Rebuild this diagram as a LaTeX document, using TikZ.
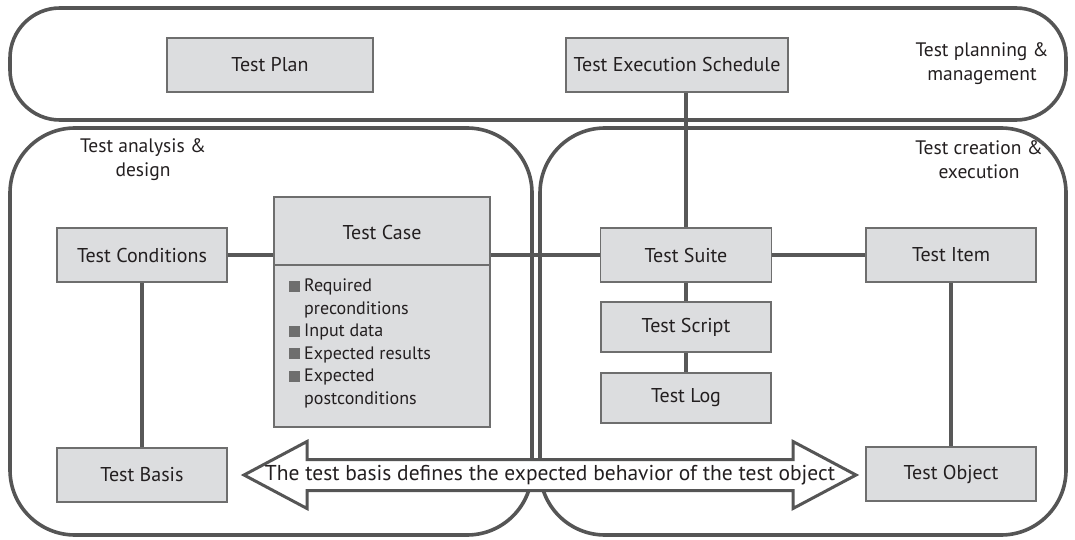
\documentclass[tikz,border=0pt]{standalone}
\usepackage{fontspec}
\setmainfont{PT Sans}
\usetikzlibrary{shapes.arrows}
\definecolor{boxfill}{RGB}{220,221,223}
\definecolor{boxline}{RGB}{110,110,110}
\definecolor{frameline}{RGB}{85,85,85}
\definecolor{connline}{RGB}{88,88,88}
\definecolor{inktext}{RGB}{35,31,32}
\newcommand{\sqmark}{\textcolor{boxline}{\rule{11pt}{11pt}}\hspace{4pt}}
\begin{document}
\begin{tikzpicture}[x=1pt,y=-1pt,
    every node/.style={text=inktext,font=\fontsize{18}{22.5}\selectfont},
    artefact/.style={draw=boxline,fill=boxfill,line width=1.3pt,minimum width=170pt,minimum height=54pt,inner sep=0pt,
      font=\fontsize{20}{24}\selectfont},
    arealabel/.style={align=center,font=\fontsize{19.5}{24}\selectfont},
    area/.style={draw=frameline,line width=3.6pt},
    link/.style={draw=connline,line width=4pt}]
  \useasboundingbox (0,0) rectangle (1075,540);
  % the three activity areas
  \draw[area,rounded corners=50pt] (10,8) rectangle (1066,120);
  \draw[area,rounded corners=65pt] (10,128) rectangle (532,535);
  \draw[area,rounded corners=65pt] (540,128) rectangle (1066,535);
  \node[arealabel] (plabel) at (982,64) {Test planning \&\\management};
  \node[arealabel] (alabel) at (143,160) {Test analysis \&\\design};
  \node[arealabel] (clabel) at (979,160) {Test creation \&\\execution};
  % work products
  \node[artefact,minimum width=206pt] (plan) at (270,65) {Test Plan};
  \node[artefact,minimum width=222pt] (sched) at (677,65) {Test Execution Schedule};
  \node[artefact] (cond) at (142,255) {Test Conditions};
  \node[artefact,minimum width=171pt] (suite) at (686,255) {Test Suite};
  \node[artefact] (item) at (951,255) {Test Item};
  \node[artefact,minimum height=50pt] (script) at (686,327) {Test Script};
  \node[artefact,minimum height=50pt] (log) at (686,398) {Test Log};
  \node[artefact] (basis) at (142,475) {Test Basis};
  \node[artefact] (object) at (951,474) {Test Object};
  \node[artefact,minimum width=216pt,minimum height=230pt] (case) at (382,312) {};
  \node[font=\fontsize{20}{24}\selectfont] (casetitle) at (382,232) {Test Case};
  \draw[boxline,line width=1.3pt] (case.west |- 0,265) -- (case.east |- 0,265);
  \node[anchor=north west,align=left,inner sep=0pt] (caseitems) at (289,279)
    {\sqmark Required\\\hphantom{\sqmark}preconditions\\\sqmark Input data\\
     \sqmark Expected results\\\sqmark Expected\\\hphantom{\sqmark}postconditions};
  % relations
  \begin{scope}[link]
    \draw (suite |- sched.south) to (suite);
    \draw (cond) to (cond -| case.west);
    \draw (case.east |- suite) to (suite);
    \draw (suite) to (item);
    \draw (suite) to (script);
    \draw (script) to (log);
    \draw (cond) to (basis);
    \draw (item) to (object);
  \end{scope}
  % basis <-> object
  \node[double arrow,draw=frameline,fill=white,line width=3pt,inner xsep=0pt,inner ysep=14pt,
        minimum height=612pt,minimum width=64pt,double arrow head extend=18pt,
        double arrow tip angle=56] (msgarrow) at (550,475) {};
  \node[font=\fontsize{21.5}{25}\selectfont] (msgtext) at (msgarrow.center) {The test basis defines the expected behavior of the test object};
\end{tikzpicture}
\end{document}
